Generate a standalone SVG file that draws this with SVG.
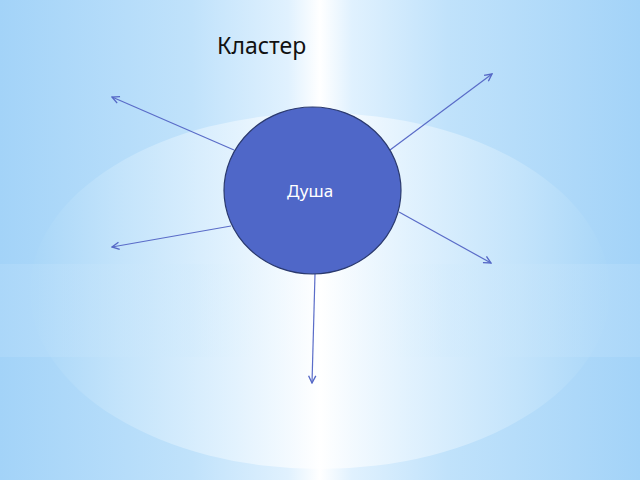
<svg xmlns="http://www.w3.org/2000/svg" width="640" height="480" viewBox="0 0 640 480">
<defs>
<linearGradient id="bg" x1="0" y1="0" x2="1" y2="0">
<stop offset="0" stop-color="#a3d3f8"/>
<stop offset="0.3" stop-color="#c0e2fb"/>
<stop offset="0.45" stop-color="#e0f1fe"/>
<stop offset="0.5" stop-color="#ffffff"/>
<stop offset="0.55" stop-color="#e0f1fe"/>
<stop offset="0.7" stop-color="#c0e2fb"/>
<stop offset="1" stop-color="#a3d3f8"/>
</linearGradient>
<linearGradient id="band" x1="0" y1="0" x2="1" y2="0">
<stop offset="0" stop-color="#b5dcfa"/>
<stop offset="0.3" stop-color="#d2ebfc"/>
<stop offset="0.5" stop-color="#ffffff"/>
<stop offset="0.7" stop-color="#d2ebfc"/>
<stop offset="1" stop-color="#b5dcfa"/>
</linearGradient>
<linearGradient id="ell" x1="0" y1="0" x2="1" y2="0">
<stop offset="0" stop-color="#a8d6f8"/>
<stop offset="0.15" stop-color="#c4e4fb"/>
<stop offset="0.35" stop-color="#e4f3fe"/>
<stop offset="0.5" stop-color="#ffffff"/>
<stop offset="0.65" stop-color="#e4f3fe"/>
<stop offset="0.85" stop-color="#c4e4fb"/>
<stop offset="1" stop-color="#a8d6f8"/>
</linearGradient>
<marker id="arr" viewBox="0 0 10 10" refX="9" refY="5" markerWidth="9" markerHeight="9" markerUnits="userSpaceOnUse" orient="auto">
<path d="M1,1 L9,5 L1,9" fill="none" stroke="#5568c6" stroke-width="1.5"/>
</marker>
<style>
.c{stroke:#5a6cc8;stroke-width:1.2;fill:none;marker-end:url(#arr)}
</style>
</defs>
<rect width="640" height="480" fill="url(#bg)"/>
<ellipse cx="320" cy="291" rx="290" ry="178" fill="url(#ell)" opacity="0.9"/>
<rect x="0" y="264" width="640" height="93" fill="url(#band)" opacity="0.45"/>
<text x="217" y="54" font-family="'Noto Sans', 'DejaVu Sans', sans-serif" font-size="23" fill="#111">Кластер</text>
<g id="connectors">
<line class="c" x1="234" y1="150" x2="112" y2="97"/>
<line class="c" x1="390" y1="150" x2="492" y2="74"/>
<line class="c" x1="231" y1="226" x2="112" y2="247"/>
<line class="c" x1="399" y1="212" x2="491" y2="263"/>
<line class="c" x1="315" y1="274" x2="312" y2="383"/>
</g>
<g id="node-dusha">
<ellipse cx="312.5" cy="190.5" rx="88.5" ry="83.5" fill="#4f67c8" stroke="#2b3a6e" stroke-width="1.2"/>
<text x="310" y="197" text-anchor="middle" font-family="'Noto Sans', 'DejaVu Sans', sans-serif" font-size="17" fill="#ffffff">Душа</text>
</g>
</svg>
